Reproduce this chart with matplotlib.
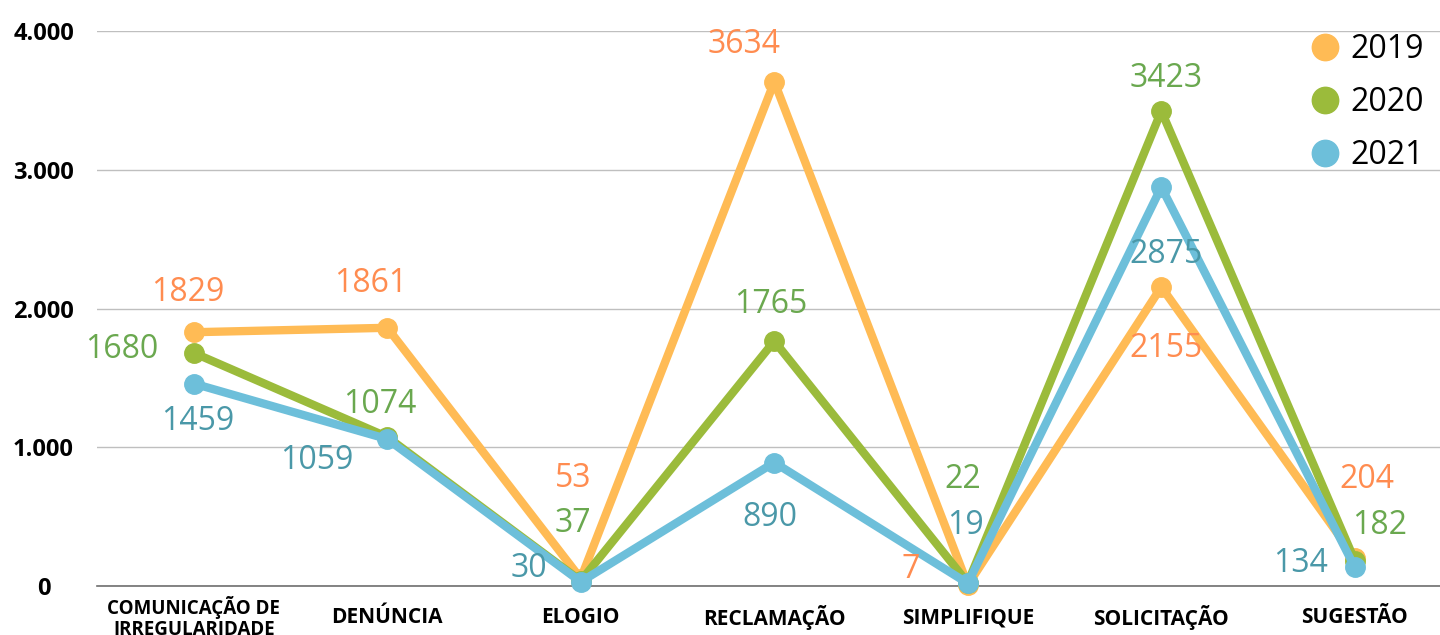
import matplotlib.pyplot as plt
from matplotlib.lines import Line2D

plt.rcParams['font.family'] = ['Open Sans', 'DejaVu Sans']

# Dados
categorias = ['COMUNICAÇÃO DE\nIRREGULARIDADE', 'DENÚNCIA', 'ELOGIO', 'RECLAMAÇÃO',
              'SIMPLIFIQUE', 'SOLICITAÇÃO', 'SUGESTÃO']
anos = ['2019', '2020', '2021']
v2019 = [1829, 1861, 53, 3634, 7, 2155, 204]
v2020 = [1680, 1074, 37, 1765, 22, 3423, 182]
v2021 = [1459, 1059, 30, 890, 19, 2875, 134]
yticks = [0, 1000, 2000, 3000, 4000]
ytick_labels = ['0', '1.000', '2.000', '3.000', '4.000']

# estilo
cores_linha = ['#FFBB55', '#9BBB3B', '#6DBFDA']
cores_rotulo = ['#FF8C50', '#6AA84F', '#4A98A8']

# deslocamento dos rótulos (pixels)
offs_2019 = [(-6, 40), (-17, 44), (-8, 100), (-30, 37), (-57, 16), (5, -62), (12, 78)]
offs_2020 = [(-72, 3), (-7, 32), (-8, 57), (-4, 37), (-5, 103), (5, 33), (25, 35)]
offs_2021 = [(4, -38), (-70, -21), (-52, 13), (-4, -55), (-2, 58), (5, -67), (-54, 4)]

fig = plt.figure(figsize=(14.4, 6.35), dpi=100)
ax = fig.add_axes([97 / 1440, 1 - 586 / 635, 1 - 97 / 1440, 555 / 635])

series = [v2019, v2020, v2021]
offsets = [offs_2019, offs_2020, offs_2021]
x = list(range(len(categorias)))

for i, vals in enumerate(series):
    ax.plot(x, vals, color=cores_linha[i], linewidth=6, marker='o', markersize=14,
            solid_capstyle='round', zorder=3 + i, clip_on=False)
    for j, v in enumerate(vals):
        ax.annotate(str(v), (x[j], v), xytext=offsets[i][j], textcoords='offset pixels',
                    ha='center', va='center', fontsize=23, color=cores_rotulo[i], zorder=10)

ax.set_xlim(-0.5, 6.44)
ax.set_ylim(0, 4000)
ax.set_yticks(yticks)
ax.set_yticklabels(ytick_labels, fontsize=17, fontweight='bold', ha='center')
ax.tick_params(axis='y', length=0, pad=38.5)
ax.set_xticks(x)
ax.set_xticklabels(categorias, fontsize=15, fontweight='bold', va='center', linespacing=1.05)
ax.get_xticklabels()[0].set_fontsize(13.5)
ax.tick_params(axis='x', length=0, pad=23)

ax.grid(axis='y', color='#BFBFBF', linewidth=1)
ax.set_axisbelow(True)
for s in ['top', 'right', 'left']:
    ax.spines[s].set_visible(False)
ax.spines['bottom'].set_color('#6E6E6E')
ax.spines['bottom'].set_linewidth(1.2)
ax.spines['bottom'].set_zorder(2)

handles = [Line2D([], [], color=c, marker='o', linestyle='none', markersize=19) for c in cores_linha]
ax.legend(handles, anos, loc='upper right', bbox_to_anchor=(1.005, 1.036), frameon=False,
          fontsize=23, labelspacing=0.62, handlelength=1.0, handletextpad=0.3, borderaxespad=0.3)

fig.savefig('out.png', dpi=100)
